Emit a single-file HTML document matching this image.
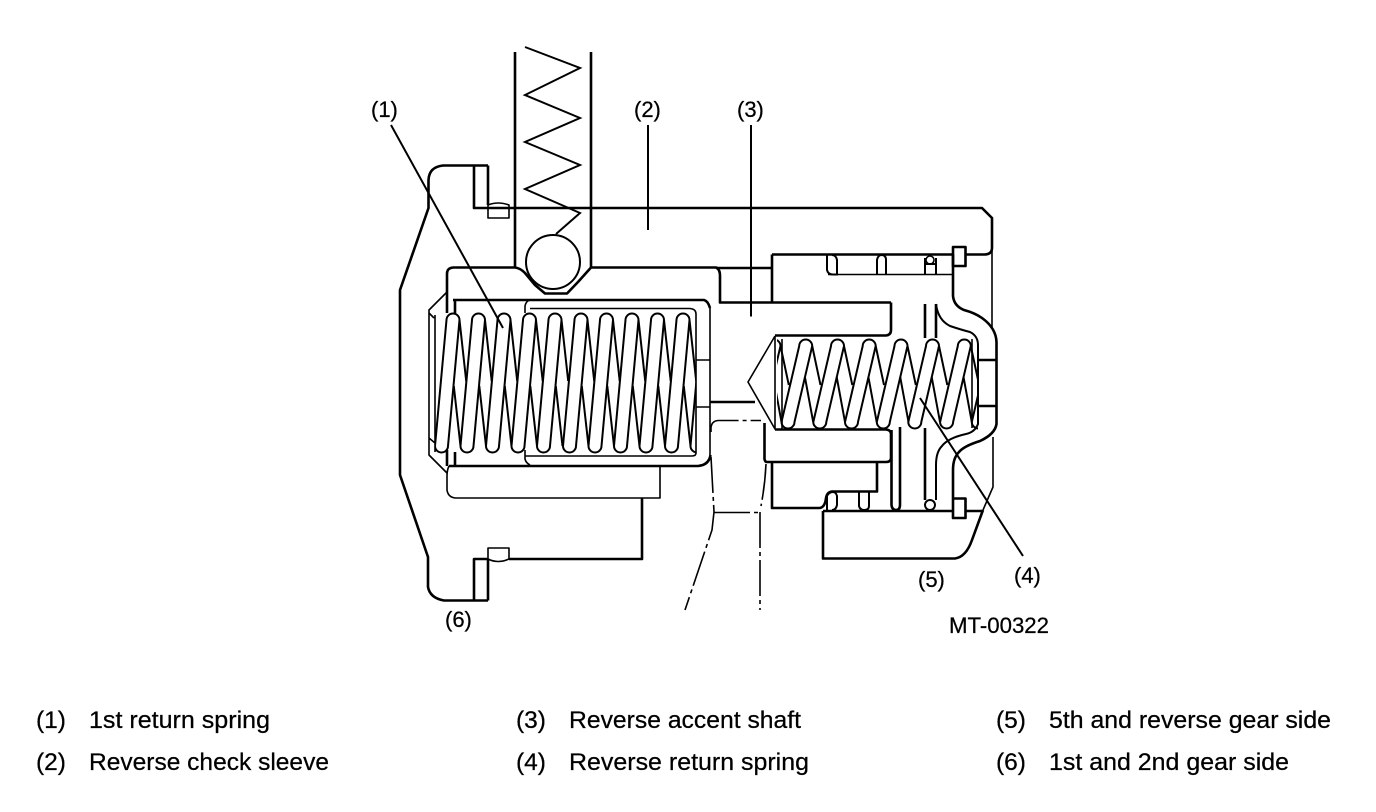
<!DOCTYPE html>
<html><head><meta charset="utf-8"><style>
html,body{margin:0;padding:0;background:#fff;width:1376px;height:812px;overflow:hidden}
svg{display:block}
text{font-family:"Liberation Sans",sans-serif;fill:#000;stroke:#000;stroke-width:.25}
.l{font-size:24.500px}.m{font-size:22px}
.k{fill:none;stroke:#000;stroke-width:2.600;stroke-linejoin:round}
.t{fill:none;stroke:#000;stroke-width:1.600;stroke-linejoin:round}
.f{fill:none;stroke:#000;stroke-width:2}
.d{fill:none;stroke:#000;stroke-width:1.600;stroke-dasharray:36 4 4 4}
</style></head><body>
<svg width="1376" height="812" viewBox="0 0 1376 812" xmlns="http://www.w3.org/2000/svg">
<defs>
<g id="c1" class="f">
<path class="f" d="M-18 446L-6.500 320A6.500 6.500 0 0 1 6.500 320L-5 446A6.500 6.500 0 0 1-18 446Z"/>
<path class="f" d="M6.500 320L13.200 381M.8 386L7.500 446"/>
</g>
<g id="c2">
<path class="f" d="M-24.200 422L-6.500 346A6.500 6.500 0 0 1 6.500 346L-11.200 422A6.500 6.500 0 0 1-24.200 422Z"/>
<path class="f" d="M6.500 346L14.800 385M-.8 377L7.500 422"/>
</g>
<clipPath id="cp1"><rect x="435" y="305" width="261" height="160"/></clipPath>
<clipPath id="cp2"><rect x="777" y="330" width="201" height="105"/></clipPath>
</defs>

<!-- housing -->
<path class="k" d="M488 165.500H443Q429 167 428.500 180V208L400 290V475L428 557V587Q430 598 444 600.500H488"/>
<path class="k" d="M474 165.500V208H982L992 218V248Q992 254 985 254.500H966"/>
<path class="t" d="M992 248V328"/>
<path class="k" d="M488 165.500V205M474 600.500V559H488M488 559V600.500"/>
<path class="t" d="M488 205V218H509V205Q498 201 488 205M488 559V548H509V559Q498 564 488 559"/>
<path class="k" d="M509 559H642V498"/>

<!-- spring top -->
<path class="k" d="M515 52V267M591 52V267"/>
<path class="f" d="M525 47L580 68L525 95L580 118L525 142L580 165L525 189L580 213L556 234"/>
<circle class="t" cx="553" cy="262" r="27" style="stroke-width:2"/>
<path class="k" d="M453 267.500H515Q520 268 525 273L535 285L545 293.500H567L578 282L591 267.500H716Q720 269 720 276V302.500H891"/>
<path class="k" d="M716 268H772M772 254.500V302.500M772 254.500H953"/>

<!-- left block -->
<path class="k" d="M447 313V274Q447 268 453 267.500"/>
<path class="k" d="M453 300H704Q708 301 710 308M455 300V313"/>
<path class="t" d="M525 313V306Q526 301 530 300M530 308.500H690Q696 309 696 314V453Q696 456 692 456H525V459Q526 463 530 465M525 450V456"/>
<path class="t" d="M710 308V455"/>
<path class="k" d="M449 466H698Q709 465 710.500 455"/>
<path class="t" d="M447 292L429 310V455L447 473M435 315V452M429 313L434 318M429 438L435 443"/>
<path class="t" d="M696 360H710M696 407H710"/>
<path class="k" d="M447 450V466M455 452V466"/>
<path class="t" d="M449 466Q447 470 447 476V490Q448 497 455 498H660V466"/>

<!-- coil 1 -->
<g clip-path="url(#cp1)">
<use href="#c1" x="453"/><use href="#c1" x="478.500"/><use href="#c1" x="504"/><use href="#c1" x="529.500"/><use href="#c1" x="555"/><use href="#c1" x="581"/><use href="#c1" x="606.500"/><use href="#c1" x="632"/><use href="#c1" x="657.500"/><use href="#c1" x="683"/><use href="#c1" x="708.500"/>
</g>

<!-- shaft -->
<path class="k" d="M710 402H755"/>
<path class="k" d="M891 302.500V330Q891 335 886 335.500H775"/>
<path class="k" d="M775 429.500H886Q891 430 891 434V458Q891 462 886 462H767Q765 462 764.500 459V423"/>
<path class="t" d="M775 336L748 382L775 429V336M782 339V429"/>
<path class="k" d="M772 462V508H820Q825 507 826 498Q827 492 832 491.500H877V462"/>

<!-- coil 2 -->
<g clip-path="url(#cp2)">
<use href="#c2" x="774"/><use href="#c2" x="805.700"/><use href="#c2" x="837.500"/><use href="#c2" x="869.200"/><use href="#c2" x="901"/><use href="#c2" x="932.500"/><use href="#c2" x="964.300"/><use href="#c2" x="996"/>
</g>
<path class="t" d="M972 339V428"/>

<!-- right side -->
<path class="k" d="M953 254.500V296Q954 306 964 310Q975 313 982 318Q996 328 996.500 342V424Q995 434 980 441Q964 446 959 452Q953 458 953 470V498"/>
<path class="f" d="M936 304Q938 320 950 326Q962 330 970 332Q978 336 978 345V424Q975 432 966 434Q948 438 942 446Q936 452 936 465V500"/>
<path class="k" d="M978 360H996M978 406H996"/>
<path class="k" d="M953 247H965.500V266H953ZM953 498.500H965.500V518H953Z"/>
<path class="t" d="M828 274.500H953"/>
<path class="f" d="M827 255V270Q828 274.500 833 274.500H837V260Q836 255 832 255"/>
<path class="f" d="M877 274V260Q878 255 881.500 255Q886 255 886 260V274"/>
<path class="f" d="M925 274V258M936 274V258M925 264H936"/>
<circle class="t" cx="930" cy="260" r="4"/>
<path class="k" d="M925 304V338M936 304V338"/>
<path class="k" d="M891.500 430V505Q892 510 896 510Q900 510 900 505V427"/>
<path class="k" d="M925 428V500"/>
<circle class="f" cx="930" cy="505" r="5"/>
<path class="f" d="M827 510V496Q829 492 833 492Q836 492 837 496V505Q836 510 832 510M859 492V506Q860 510 864 510Q869 510 869 506V492"/>
<path class="k" d="M823 511H953M966 511H982"/>
<path class="k" d="M823 511V558.500H955Q966 557 972 540L983 510"/>
<path class="t" d="M983 510L993 487V437"/>

<!-- dash-dot -->
<path class="d" d="M711 432V427Q712 421 718 420.500H761"/>
<path class="d" d="M711 457L714 512L712 530L685 610"/>
<path class="d" d="M714 512.500H760"/>
<path class="d" d="M760 512V610"/>
<path class="d" d="M766 464Q765 485 761 506"/>

<!-- leaders -->
<path class="f" d="M391 125L503 328M648 125V230M751 125V316.500M920 398L1023 556"/>

<!-- diagram labels -->
<text class="m" x="371" y="117">(1)</text>
<text class="m" x="634" y="117">(2)</text>
<text class="m" x="737" y="117">(3)</text>
<text class="m" x="1014" y="583">(4)</text>
<text class="m" x="918" y="587">(5)</text>
<text class="m" x="445" y="627">(6)</text>
<text class="m" x="949" y="633" textLength="100" lengthAdjust="spacingAndGlyphs">MT-00322</text>

<!-- legend -->
<text class="l" x="36" y="728">(1)</text><text class="l" x="89" y="728" textLength="181" lengthAdjust="spacingAndGlyphs">1st return spring</text>
<text class="l" x="36" y="770">(2)</text><text class="l" x="89" y="770" textLength="240" lengthAdjust="spacingAndGlyphs">Reverse check sleeve</text>
<text class="l" x="516" y="728">(3)</text><text class="l" x="569" y="728" textLength="232" lengthAdjust="spacingAndGlyphs">Reverse accent shaft</text>
<text class="l" x="516" y="770">(4)</text><text class="l" x="569" y="770" textLength="240" lengthAdjust="spacingAndGlyphs">Reverse return spring</text>
<text class="l" x="996" y="728">(5)</text><text class="l" x="1049" y="728" textLength="282" lengthAdjust="spacingAndGlyphs">5th and reverse gear side</text>
<text class="l" x="996" y="770">(6)</text><text class="l" x="1049" y="770" textLength="240" lengthAdjust="spacingAndGlyphs">1st and 2nd gear side</text>
</svg>
</body></html>
